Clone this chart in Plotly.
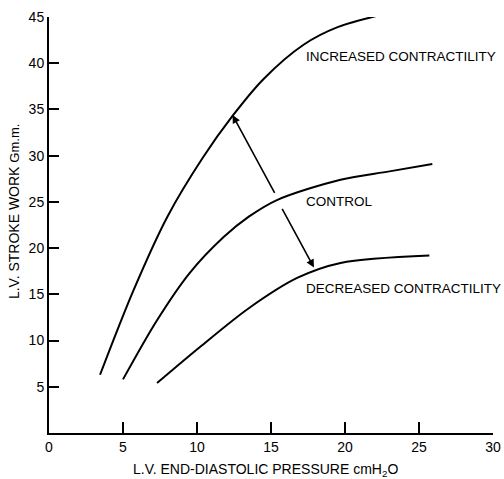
import plotly.graph_objects as go

# Data
inc_x = [3.45, 5.7, 8.0, 10.4, 12.4, 14.5, 17.2, 19.5, 22.6]
inc_y = [6.3, 15.4, 23.4, 29.8, 34.3, 38.3, 42.0, 43.9, 45.3]

ctl_x = [5.0, 7.3, 9.5, 11.8, 13.5, 15.4, 19.7, 23.0, 25.9]
ctl_y = [5.8, 12.2, 17.3, 21.2, 23.4, 25.2, 27.4, 28.3, 29.1]

dec_x = [7.3, 10.2, 13.5, 16.8, 19.7, 25.7]
dec_y = [5.4, 9.3, 13.5, 16.8, 18.4, 19.2]

labels = ["INCREASED CONTRACTILITY", "CONTROL", "DECREASED CONTRACTILITY"]
label_x = [17.2, 17.2, 17.2]
label_y = [40.7, 25.0, 15.6]

x_ticks = [0, 5, 10, 15, 20, 25, 30]
y_ticks = [5, 10, 15, 20, 25, 30, 35, 40, 45]

FONT = "Liberation Sans"

fig = go.Figure()
for xs, ys in [(inc_x, inc_y), (ctl_x, ctl_y), (dec_x, dec_y)]:
    fig.add_trace(go.Scatter(x=xs, y=ys, mode="lines",
                             line=dict(color="black", width=2, shape="spline", smoothing=0.9),
                             showlegend=False, hoverinfo="skip"))

for t, lx, ly in zip(labels, label_x, label_y):
    fig.add_annotation(x=lx, y=ly, text=t, showarrow=False, xanchor="left", yanchor="middle",
                       font=dict(family=FONT, size=13.5, color="black"))

# arrows
fig.add_annotation(x=12.4, y=34.4, ax=15.3, ay=25.8, xref="x", yref="y", axref="x", ayref="y",
                   showarrow=True, arrowhead=2, arrowsize=1, arrowwidth=1.6, arrowcolor="black", text="")
fig.add_annotation(x=17.9, y=17.9, ax=15.7, ay=24.4, xref="x", yref="y", axref="x", ayref="y",
                   showarrow=True, arrowhead=2, arrowsize=1, arrowwidth=1.6, arrowcolor="black", text="")

# axis titles
fig.add_annotation(x=14.6, y=0, xref="x", yref="paper", yshift=-37,
                   text="L.V. END-DIASTOLIC PRESSURE cmH<sub>2</sub>O",
                   showarrow=False, xanchor="center", yanchor="middle",
                   font=dict(family=FONT, size=14, color="black"))
fig.add_annotation(x=0, y=23.9, xref="paper", yref="y", xshift=-35,
                   text="L.V. STROKE WORK <span style='font-size:13px'>Gm.m.</span>",
                   showarrow=False, textangle=-90, xanchor="center", yanchor="middle",
                   font=dict(family=FONT, size=14, color="black"))

fig.update_layout(
    width=504, height=479,
    margin=dict(l=49, r=11, t=17, b=46),
    paper_bgcolor="white", plot_bgcolor="white",
    font=dict(family=FONT, color="black"),
    xaxis=dict(range=[0, 30], tickvals=x_ticks, ticktext=[str(v) for v in x_ticks],
               automargin=False,
               showgrid=False, zeroline=False, showline=True, linecolor="black", linewidth=2,
               ticks="inside", ticklen=11, tickwidth=1.5, tickcolor="black",
               tickfont=dict(family=FONT, size=14, color="black")),
    yaxis=dict(range=[0, 45], tickvals=y_ticks, ticktext=[str(v) for v in y_ticks],
               automargin=False,
               showgrid=False, zeroline=False, showline=True, linecolor="black", linewidth=2,
               ticks="inside", ticklen=10, tickwidth=1.5, tickcolor="black",
               tickfont=dict(family=FONT, size=14, color="black")),
)

fig.write_html("out.html", config={"displayModeBar": False},
               post_script="document.body.style.margin='0px';document.body.style.overflow='hidden';")
